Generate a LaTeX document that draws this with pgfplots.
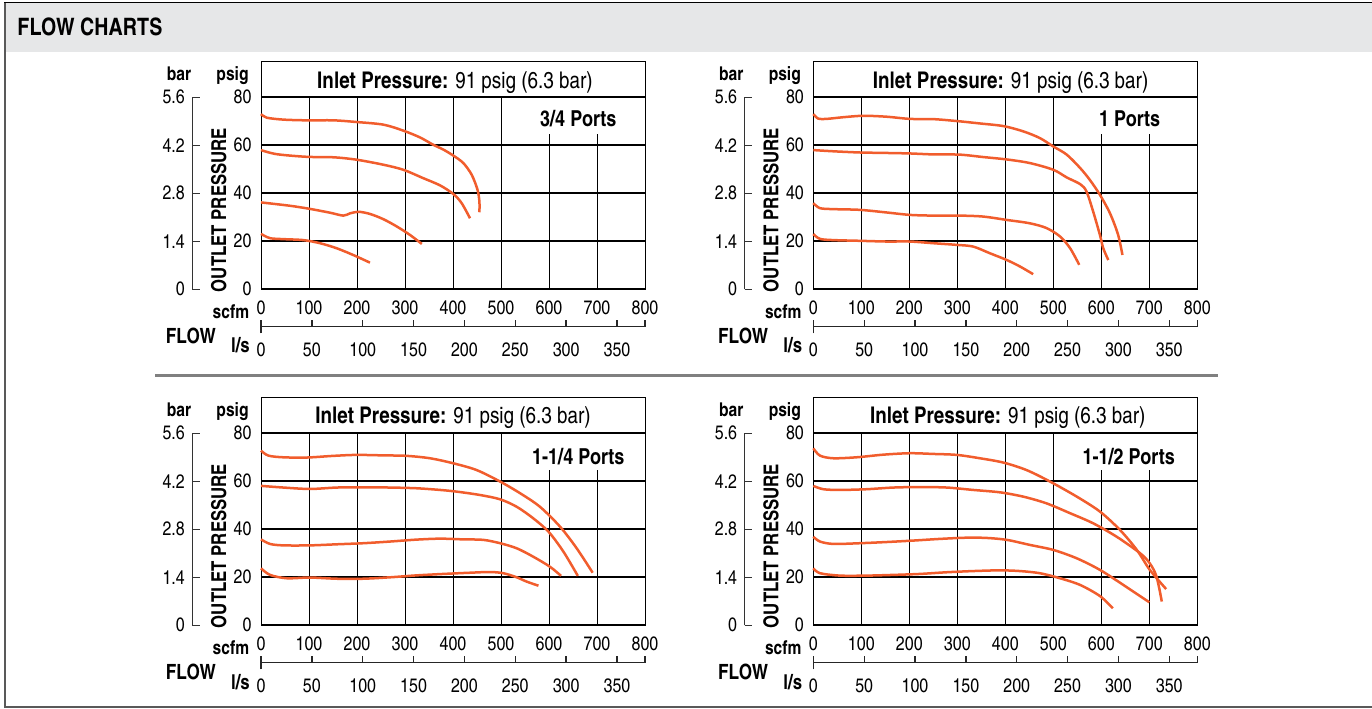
\documentclass[border=0pt]{standalone}
\usepackage{fontspec}
\setmainfont{texgyreheroscn}[Extension=.otf, UprightFont=*-regular, BoldFont=*-bold, ItalicFont=*-italic, BoldItalicFont=*-bolditalic]
\usepackage{pgfplots}
\pgfplotsset{compat=1.18}
\definecolor{curve}{RGB}{241,93,45}
\definecolor{hdr}{RGB}{230,231,232}
\newcommand{\fs}[1]{\fontsize{#1bp}{#1bp}\selectfont}

\tikzset{fl/.style={draw=curve, line width=2.5bp, smooth, mark=none}}
\pgfplotsset{flowaxis/.style={
 scale only axis, width=384bp, height=228bp,
 xmin=0, xmax=800, ymin=0, ymax=95,
 anchor=south west,
 xtick={0,100,...,800}, ytick={0,20,...,80},
 major tick length=0pt,
 ymajorgrids, major grid style={black, line width=1.8bp},
 axis line style={black, line width=0.9bp},
 tick label style={font=\fs{19.5}},
 /pgf/number format/assume math mode=true,
 xticklabel style={anchor=base, yshift=-25.7bp},
 yticklabel style={anchor=east, inner sep=0pt, xshift=-9.3bp},
 clip=false,
}}

\begin{document}
\begin{tikzpicture}[x=1bp,y=1bp]
\path[use as bounding box] (0,0) rectangle (1372,708);
% header
\fill[hdr] (5,656.3) rectangle (1372,704.5);
\draw[black, line width=1bp] (4,705) -- (1372,705);
\draw[black!65, line width=2bp] (4.5,705) -- (4.5,1.5) -- (1372,1.5);
\node[anchor=base west, inner sep=0pt, font=\fs{24}\bfseries] at (17.3,672.3) {FLOW CHARTS};
% separator
\draw[black!50, line width=2.5bp] (155,332.3) -- (1218,332.3);

% decorations common to every chart
\foreach \ox/\oy in {261/418.7, 813.3/418.7, 261/82.7, 813.3/82.7}{
 \begin{scope}[shift={(\ox,\oy)}]
  \foreach \k in {1,...,5} \draw[black, line width=0.8bp] (48*\k,0) -- (48*\k,192);
  \foreach \k in {6,7} \draw[black, line width=0.8bp] (48*\k,0) -- (48*\k,155.3);
  % bar axis
  \draw[black!80, line width=0.8bp] (-68.7,0) -- (-68.7,192);
  \foreach \j/\b in {0/0,1/1.4,2/2.8,3/4.2,4/5.6}{
    \draw[black!80, line width=0.8bp] (-68.7,48*\j) -- (-61,48*\j);
    \node[anchor=east, inner sep=0pt, font=\fs{19.5}] at (-76,48*\j) {\b};
  }
  \node[anchor=base, inner sep=0pt, font=\fs{19}\bfseries] at (-82,208.3) {bar};
  \node[anchor=base, inner sep=0pt, font=\fs{19}\bfseries] at (-28.5,208.3) {psig};
  \node[rotate=90, inner sep=0pt, font=\fs{20.5}\bfseries] at (-42.2,79.3) {OUTLET PRESSURE};
  \node[anchor=base east, inner sep=0pt, font=\fs{19}\bfseries] at (-11.7,-29.7) {scfm};
  \node[anchor=base, inner sep=0pt, font=\fs{21}\bfseries] at (-70.2,-54) {FLOW};
  \node[anchor=base east, inner sep=0pt, font=\fs{20.5}\bfseries] at (-11,-63.7) {l/s};
  % l/s axis
  \draw[black!85, line width=1.3bp] (0,-37.4) -- (384,-37.4);
  \draw[black!85, line width=1.3bp] (0,-44) -- (0,-30.4);
  \draw[black!85, line width=1.3bp] (384,-37.4) -- (384,-30.4);
  \foreach \L in {50,100,...,350}
    \draw[black!85, line width=1.3bp] (1.01706*\L,-37.4) -- (1.01706*\L,-30.4);
  \foreach \L in {0,50,...,350}
    \node[anchor=base, inner sep=0pt, font=\fs{19.5}] at (1.01706*\L,-67.4) {\L};
 \end{scope}
}

% ---------- 3/4 Ports ----------
\begin{axis}[flowaxis, at={(261bp,418.7bp)}]
\node[anchor=base, inner sep=0pt, font=\fs{23}] at (axis cs:404,83.5) {\textbf{Inlet Pressure:} 91 psig (6.3 bar)};
\node[anchor=base, inner sep=0pt, font=\fs{22}\bfseries] at (axis cs:661,67.9) {3/4 Ports};
\addplot[fl] coordinates {(0,73.0)(12,71.5)(46.5,70.7)(95,70.4)(151,70.4)(199,69.7)(255,68.6)(296.5,66.1)(331,63.3)(359,60.2)(380,58.2)(400.7,55.7)(421.5,52.6)(439,47.7)(451,41.5)(455,36.6)(455,32.1)};
\addplot[fl] coordinates {(0,58.0)(32.6,56.3)(95,55.2)(151,55.0)(199,54.0)(255,51.9)(296.5,49.8)(338,46.3)(373,43.3)(400.7,39.7)(418,35.9)(435.4,29.6)};
\addplot[fl] coordinates {(0,36.2)(60.4,34.8)(102,33.5)(144,31.9)(171.5,30.7)(185,31.6)(203,32.3)(227,31.4)(255,29.2)(282.6,26.2)(310,22.7)(335,18.9)};
\addplot[fl] coordinates {(0,23.1)(18.75,21.3)(46.5,20.9)(88,20.5)(123,19.2)(157.6,17.1)(192,14.3)(227,11.1)};
\end{axis}

% ---------- 1 Ports ----------
\begin{axis}[flowaxis, at={(813.3bp,418.7bp)}]
\node[anchor=base, inner sep=0pt, font=\fs{23}] at (axis cs:411,83.5) {\textbf{Inlet Pressure:} 91 psig (6.3 bar)};
\node[anchor=base, inner sep=0pt, font=\fs{22}\bfseries] at (axis cs:659,67.9) {1 Ports};
\addplot[fl] coordinates {(0,73.0)(10.4,71.1)(27.8,71.0)(62.5,71.7)(104,72.3)(153,71.9)(201,71.0)(250,70.9)(299,70.1)(347,69.1)(396,68.0)(437.5,65.8)(472,63.0)(500,59.5)(528,56.1)(556,50.5)(576,45.6)(597,39.4)(618,31.7)(635,22.7)(644,14.3)};
\addplot[fl] coordinates {(0,58.0)(41.7,57.5)(97,57.0)(153,56.8)(201,56.6)(250,56.2)(305.6,56.1)(354,55.1)(403,54.1)(451,52.6)(500,49.8)(528,46.6)(556,43.8)(569,40.8)(583,32.4)(597,22.7)(604,17.1)(614.6,12.2)};
\addplot[fl] coordinates {(0,35.9)(13.9,33.8)(41.7,33.4)(97,33.1)(153,32.0)(201,31.0)(250,30.7)(305.6,30.7)(354,30.3)(403,28.9)(451,27.5)(486,25.5)(514,22.0)(535,17.1)(554,10.2)};
\addplot[fl] coordinates {(0,23.0)(13.9,21.0)(41.7,20.5)(97,20.2)(153,19.9)(201,19.9)(250,19.2)(299,18.5)(333,17.8)(368,15.0)(403,12.2)(430.5,9.5)(458,6.3)};
\end{axis}

% ---------- 1-1/4 Ports ----------
\begin{axis}[flowaxis, at={(261bp,82.7bp)}]
\node[anchor=base, inner sep=0pt, font=\fs{23}] at (axis cs:400,84.2) {\textbf{Inlet Pressure:} 91 psig (6.3 bar)};
\node[anchor=base, inner sep=0pt, font=\fs{22}\bfseries] at (axis cs:661,66.8) {1-1/4 Ports};
\addplot[fl] coordinates {(0,72.8)(15.3,70.7)(46.5,70.0)(95,69.9)(151,70.6)(199,71.0)(255,70.8)(303.5,70.6)(352,69.6)(400.7,67.5)(449,64.7)(498,59.9)(540,55.0)(581,49.4)(623,41.1)(657.6,32.1)(691,21.9)};
\addplot[fl] coordinates {(0,58.1)(46.5,57.4)(102,56.8)(157.6,57.4)(213,57.5)(269,57.4)(324,57.1)(373,56.4)(407.6,55.7)(456,54.3)(498,52.5)(532.6,49.4)(567,44.6)(599,39.0)(630,30.7)(660,20.6)};
\addplot[fl] coordinates {(0,35.8)(18.75,33.9)(46.5,33.3)(102,33.3)(157.6,33.75)(213,34.2)(269,34.9)(324,35.7)(373,36.1)(421.5,35.8)(463,35.6)(498,34.2)(532.6,32.1)(567,28.6)(602,24.4)(625,20.6)};
\addplot[fl] coordinates {(0,23.75)(18.75,21.0)(53.5,19.6)(102,19.9)(157.6,19.4)(213,19.4)(269,20.0)(324,20.8)(380,21.4)(435,21.9)(477,22.2)(505,21.7)(532.6,20.0)(553.5,18.2)(578,16.5)};
\end{axis}

% ---------- 1-1/2 Ports ----------
\begin{axis}[flowaxis, at={(813.3bp,82.7bp)}]
\node[anchor=base, inner sep=0pt, font=\fs{23}] at (axis cs:405,84.2) {\textbf{Inlet Pressure:} 91 psig (6.3 bar)};
\node[anchor=base, inner sep=0pt, font=\fs{22}\bfseries] at (axis cs:657,66.8) {1-1/2 Ports};
\addplot[fl] coordinates {(0,73.75)(13.9,70.7)(41.7,69.6)(90,70.0)(146,71.1)(201,71.7)(250,71.4)(299,71.0)(347,69.6)(396,67.8)(444,64.7)(493,59.9)(549,53.6)(597,47.4)(639,39.7)(674,31.4)(701,23.1)(735,15.1)};
\addplot[fl] coordinates {(0,58.1)(20.8,56.7)(55.6,56.4)(111,56.7)(167,57.4)(222,57.6)(278,57.4)(333,56.4)(389,55.4)(437.5,53.6)(486,50.8)(535,46.7)(583,42.5)(632,36.9)(681,30.0)(701,25.8)(715,20.3)(726,9.9)};
\addplot[fl] coordinates {(0,36.9)(13.9,34.9)(41.7,33.9)(97,34.2)(153,34.7)(208,35.3)(264,36.0)(319,36.5)(361,36.4)(403,35.6)(451,33.5)(500,31.4)(549,27.9)(597,23.1)(646,16.8)(700,9.6)};
\addplot[fl] coordinates {(0,23.75)(13.9,21.7)(55.6,20.7)(111,20.7)(167,21.0)(222,21.4)(278,22.1)(333,22.6)(389,22.9)(430.5,22.6)(472,21.7)(514,19.6)(556,16.8)(597,12.2)(624,7.1)};
\end{axis}
\end{tikzpicture}
\end{document}
